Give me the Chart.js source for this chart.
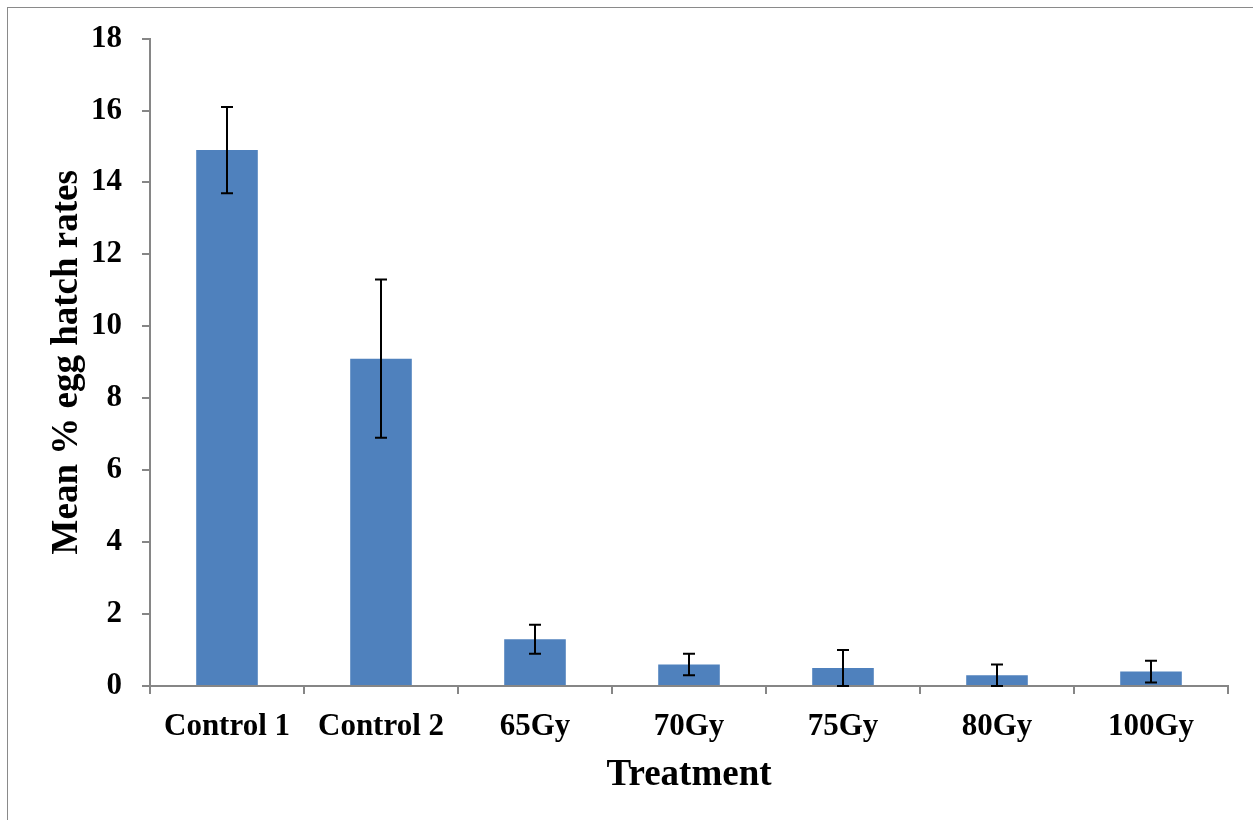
<!DOCTYPE html>
<html>
<head>
<meta charset="utf-8">
<script src="https://cdn.jsdelivr.net/npm/chart.js@4.4.0/dist/chart.umd.min.js"></script>
<style>
  body { margin: 0; background: #fff; }
  #wrap { position: relative; width: 1253px; height: 820px; }
  #frame { position: absolute; left: 7px; top: 7px; width: 1246px; height: 813px;
           border-top: 1px solid #8a8a8a; border-left: 1px solid #8a8a8a; box-sizing: border-box; }
  canvas { position: absolute; left: 0; top: 0; }
</style>
</head>
<body>
<div id="wrap">
  <div id="frame"></div>
  <canvas id="myChart" width="1253" height="820"></canvas>
</div>
<script>
// valores
var categorias = ['Control 1', 'Control 2', '65Gy', '70Gy', '75Gy', '80Gy', '100Gy'];
var medias = [14.9, 9.1, 1.3, 0.6, 0.5, 0.3, 0.4];
var erros = [1.2, 2.2, 0.4, 0.3, 0.5, 0.3, 0.3];
var yTicks = [0, 2, 4, 6, 8, 10, 12, 14, 16, 18];

var cinza = '#868686';

// desenha as barras de erro usando as escalas do grafico
const barrasErro = {
  id: 'barrasErro',
  afterDatasetsDraw(chart) {
    const ctx = chart.ctx;
    const meta = chart.getDatasetMeta(0);
    const y = chart.scales.y;
    ctx.save();
    ctx.strokeStyle = '#000';
    ctx.lineWidth = 2;
    for (var i = 0; i < medias.length; i++) {
      var x = meta.data[i].x;
      var yTop = y.getPixelForValue(medias[i] + erros[i]);
      var yBot = y.getPixelForValue(Math.max(0, medias[i] - erros[i]));
      ctx.beginPath();
      ctx.moveTo(x, yTop); ctx.lineTo(x, yBot);
      ctx.moveTo(x - 6, yTop); ctx.lineTo(x + 6, yTop);
      ctx.moveTo(x - 6, yBot); ctx.lineTo(x + 6, yBot);
      ctx.stroke();
    }
    ctx.restore();
  }
};

const data = {
  labels: categorias,
  datasets: [{
    label: 'Mean % egg hatch rates',
    backgroundColor: '#4F81BD',
    borderWidth: 0,
    data: medias,
    categoryPercentage: 1,
    barPercentage: 0.4
  }]
};

const config = {
  type: 'bar',
  data: data,
  options: {
    responsive: false,
    animation: false,
    layout: { padding: { top: 38, right: 25, bottom: 0, left: 0 } },
    plugins: {
      legend: { display: false },
      tooltip: { enabled: false }
    },
    scales: {
      y: {
        min: 0,
        max: 18,
        afterFit: function (s) { s.width = 150; },
        afterBuildTicks: function (s) { s.ticks = yTicks.map(v => ({ value: v })); },
        ticks: {
          color: '#000',
          padding: 20,
          font: { family: 'Liberation Serif', size: 31, weight: 'bold' }
        },
        grid: { drawOnChartArea: false, tickLength: 8, color: cinza, lineWidth: 2 },
        border: { color: cinza, width: 2 },
        title: {
          display: true,
          text: 'Mean % egg hatch rates',
          color: '#000',
          padding: { top: 45, bottom: 0 },
          font: { family: 'Liberation Serif', size: 37, weight: 'bold' }
        }
      },
      x: {
        afterFit: function (s) { s.height = 134; },
        ticks: {
          color: '#000',
          padding: 14,
          maxRotation: 0,
          font: { family: 'Liberation Serif', size: 31, weight: 'bold' }
        },
        grid: { offset: true, drawOnChartArea: false, tickLength: 8, color: cinza, lineWidth: 2 },
        border: { color: cinza, width: 2 },
        title: {
          display: true,
          text: 'Treatment',
          color: '#000',
          padding: { top: 0, bottom: 22 },
          font: { family: 'Liberation Serif', size: 37, weight: 'bold' }
        }
      }
    }
  },
  plugins: [barrasErro]
};

const myChart = new Chart(document.getElementById('myChart'), config);
</script>
</body>
</html>
